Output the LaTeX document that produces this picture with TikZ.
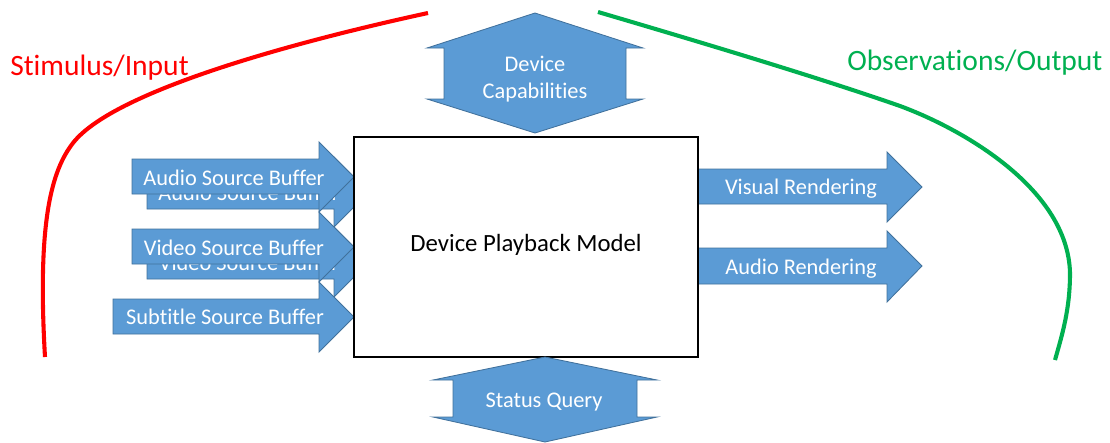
\documentclass[tikz,border=0pt]{standalone}
\usepackage{fontspec}
\setmainfont{Carlito}[Ligatures=NoCommon]
\usepackage{tikz}
\usetikzlibrary{positioning}

\definecolor{blockblue}{HTML}{5B9BD5}
\definecolor{blockedge}{HTML}{41719C}
\definecolor{outgreen}{HTML}{00B050}

\begin{document}
\begin{tikzpicture}[
    x=0.025cm, y=-0.025cm,
    blockarrow/.style={
        fill=blockblue,
        draw=blockedge,
        line width=0.6pt
    },
    arrowlabel/.style={
        text=white,
        inner sep=0pt,
        anchor=base,
        font=\fontsize{15.9}{19.2}\selectfont
    },
    modelbox/.style={
        draw,
        fill=white,
        line width=0.9pt,
        minimum width=8.6cm,
        minimum height=5.5cm,
        text height=0.75em,
        text depth=0.1em,
        font=\fontsize{17.6}{21}\selectfont
    },
    boundary/.style={
        line width=2.9pt
    },
    regionlabel/.style={
        inner sep=0pt,
        anchor=base west,
        font=\fontsize{21}{25}\selectfont
    }
]

\useasboundingbox (0,0) rectangle (1110,442);

% ------------------------------------------------
% Input and output boundaries
% ------------------------------------------------

\draw[boundary, red]
    (45,357) .. controls (37,220) and (52,170) .. (73,143)
    .. controls (115,89) and (308,39) .. (428,13);

\draw[boundary, outgreen]
    (598,12) .. controls (700,42) and (820,78) .. (900,106)
    .. controls (965,130) and (1068,190) .. (1070,273)
    .. controls (1070,310) and (1062,335) .. (1055,360);

\node[regionlabel, text=red] (stimulus) at (10,75)
    {Stimulus/Input};

\node[regionlabel, text=outgreen] (observations) at (847,70)
    {Observations/Output};

% ------------------------------------------------
% Source buffers
% ------------------------------------------------

\draw[blockarrow] (147,174) -| (334,157) -- (369,192) -- (334,227) |- (147,209) -- cycle;
\node[arrowlabel] (audiobufb) at (249,200) {Audio Source Buffer};

\draw[blockarrow] (132,159) -| (319,142) -- (354,177) -- (319,212) |- (132,194) -- cycle;
\node[arrowlabel] (audiobuf) at (234,185) {Audio Source Buffer};

\draw[blockarrow] (147,244) -| (334,227) -- (369,262) -- (334,297) |- (147,279) -- cycle;
\node[arrowlabel] (videobufb) at (249,270) {Video Source Buffer};

\draw[blockarrow] (132,229) -| (319,212) -- (354,247) -- (319,282) |- (132,264) -- cycle;
\node[arrowlabel] (videobuf) at (234,255) {Video Source Buffer};

\draw[blockarrow] (113,299) -| (319,282) -- (354,317) -- (319,352) |- (113,334) -- cycle;
\node[arrowlabel] (subbuf) at (225,324) {Subtitle Source Buffer};

% ------------------------------------------------
% Renderings
% ------------------------------------------------

\draw[blockarrow] (697,169) -| (887,152) -- (922,187) -- (887,222) |- (697,204) -- cycle;
\node[arrowlabel] (visual) at (801,194) {Visual Rendering};

\draw[blockarrow] (697,248) -| (887,231) -- (922,266) -- (887,302) |- (697,284) -- cycle;
\node[arrowlabel] (audiorend) at (801,274) {Audio Rendering};

% ------------------------------------------------
% Model
% ------------------------------------------------

\node[modelbox] (model) at (526,247) {Device Playback Model};

% Capabilities and status
\draw[blockarrow] (535,13) -- (643,48) -- (626,48) -- (626,99) -- (643,99)
    -- (535,133) -- (427,99) -- (444,99) -- (444,48) -- (427,48) -- cycle;
\node[arrowlabel, align=center, anchor=center] (caps) at (535,79)
    {Device\\Capabilities};

\draw[blockarrow] (545,357) -- (657,380) -- (637,380) -- (637,417) -- (657,417)
    -- (545,442) -- (433,417) -- (453,417) -- (453,380) -- (433,380) -- cycle;
\node[arrowlabel] (status) at (544,407) {Status Query};

\end{tikzpicture}
\end{document}
